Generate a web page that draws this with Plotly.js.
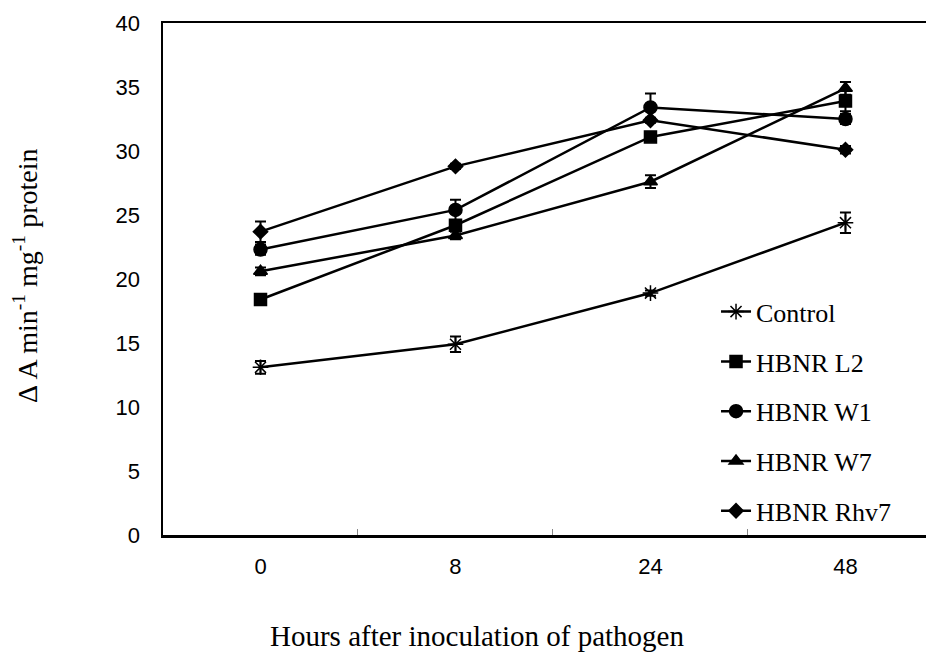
<!DOCTYPE html>
<html>
<head>
<meta charset="utf-8">
<script src="https://cdn.plot.ly/plotly-3.0.1.min.js"></script>
<style>html,body{margin:0;padding:0;background:#fff;}#chart{width:926px;height:655px;}</style>
</head>
<body>
<div id="chart"></div>
<script>
// Data
const hours = ["0", "8", "24", "48"];
const seriesNames = ["Control", "HBNR L2", "HBNR W1", "HBNR W7", "HBNR Rhv7"];
const control = [13.1, 14.9, 18.9, 24.4];
const controlErr = [0.5, 0.6, 0.2, 0.8];
const l2 = [18.4, 24.2, 31.1, 33.9];
const l2Err = [0.3, 0.4, 0.3, 0.8];
const w1 = [22.3, 25.4, 33.4, 32.5];
const w1Err = [0.4, 0.8, 1.1, 0.4];
const w7 = [20.6, 23.4, 27.6, 34.9];
const w7Err = [0.3, 0.3, 0.5, 0.5];
const rhv7 = [23.7, 28.8, 32.4, 30.1];
const rhv7Err = [0.8, 0.2, 0.2, 0.3];
const yTicks = [0, 5, 10, 15, 20, 25, 30, 35, 40];

const values = [control, l2, w1, w7, rhv7];
const errs = [controlErr, l2Err, w1Err, w7Err, rhv7Err];
const symbols = ["asterisk-open", "square", "circle", "triangle-up", "diamond"];
const sizes = [13, 12, 13, 12, 11];

const traces = values.map((v, i) => ({
  x: hours,
  y: v,
  name: seriesNames[i],
  legendgroup: "g" + i,
  type: "scatter",
  mode: "lines+markers",
  line: {color: "#000", width: 2.5},
  marker: {symbol: symbols[i], size: sizes[i], color: "#000", line: {color: "#000", width: 1.5}},
  error_y: {type: "data", array: errs[i], visible: true, color: "#000", thickness: 2, width: 5.5}
}));

const layout = {
  width: 926, height: 655,
  margin: {l: 163, r: 0, t: 23, b: 120},
  paper_bgcolor: "#fff", plot_bgcolor: "#fff",
  showlegend: true,
  legend: {
    x: 0.7248, y: 0.482, xanchor: "left", yanchor: "top",
    font: {family: "Liberation Serif, Times New Roman, serif", size: 26, color: "#000"},
    tracegroupgap: 13, bgcolor: "rgba(0,0,0,0)", itemwidth: 30
  },
  xaxis: {
    type: "category",
    range: [-0.5, 3.413],
    tickson: "boundaries",
    ticks: "inside", ticklen: 6, tickwidth: 1, tickcolor: "#888",
    showline: true, linecolor: "#000", linewidth: 2.5, mirror: true,
    showgrid: false, zeroline: false,
    tickfont: {family: "Liberation Sans, Arial, sans-serif", size: 22, color: "#000"},
    ticklabelstandoff: 10
  },
  yaxis: {
    range: [0, 40],
    tickvals: yTicks,
    ticktext: yTicks.map(String),
    ticks: "", showline: true, linecolor: "#000", linewidth: 2.5, mirror: false,
    showgrid: false, zeroline: false,
    tickfont: {family: "Liberation Sans, Arial, sans-serif", size: 22, color: "#000"},
    ticklabelstandoff: 16
  },
  annotations: [
    {text: "Hours after inoculation of pathogen", xref: "paper", yref: "paper",
     x: (477 - 163) / 763, y: (535 - 636) / 512, xanchor: "center", yanchor: "middle", showarrow: false,
     font: {family: "Liberation Serif, Times New Roman, serif", size: 29, color: "#000"}},
    {text: "Δ A min<sup>-1</sup> mg<sup>-1</sup> protein", xref: "paper", yref: "paper",
     x: (25 - 163) / 763, y: (535 - 276) / 512, xanchor: "center", yanchor: "middle", textangle: -90, showarrow: false,
     font: {family: "Liberation Serif, Times New Roman, serif", size: 28, color: "#000"}}
  ]
};

Plotly.newPlot("chart", traces, layout, {displayModeBar: false, staticPlot: true});
</script>
</body>
</html>
